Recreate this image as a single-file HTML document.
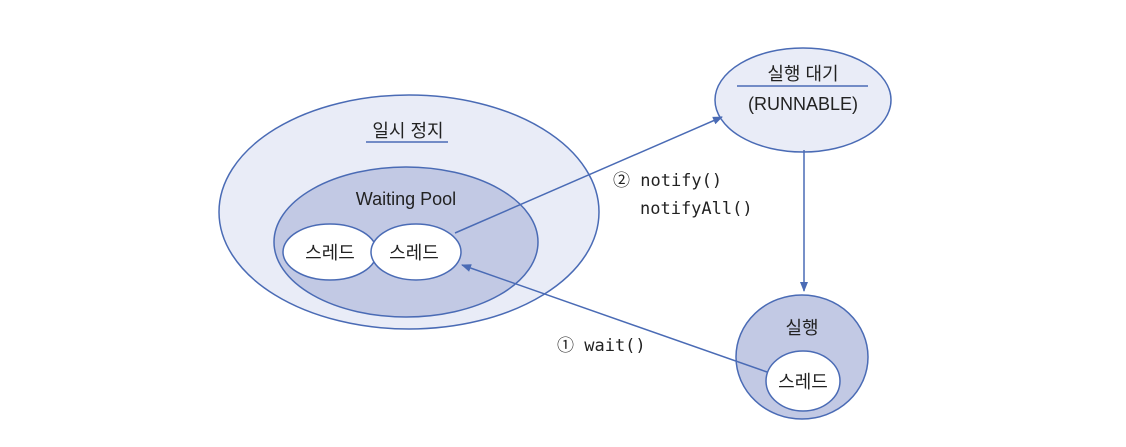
<!DOCTYPE html>
<html><head><meta charset="utf-8"><style>
html,body{margin:0;padding:0;background:#fff;}
svg text{font-family:"Liberation Sans","Noto Sans CJK KR",sans-serif;fill:#222;}
.m{font-family:"DejaVu Sans Mono","Liberation Mono","Noto Sans CJK KR",monospace !important;}
</style></head><body>
<svg width="1126" height="442" viewBox="0 0 1126 442" xmlns="http://www.w3.org/2000/svg">
<defs><marker id="a" markerWidth="10" markerHeight="10" refX="9" refY="5" orient="auto" markerUnits="userSpaceOnUse"><path d="M0,1 L10,5 L0,9 Z" fill="#4a6bb5"/></marker></defs>
<g stroke="#4a6bb5" stroke-width="1.5">
<ellipse cx="409" cy="212" rx="190" ry="117" fill="#e9ecf7"/>
<ellipse cx="406" cy="242" rx="132" ry="75" fill="#c2c9e4"/>
<ellipse cx="330" cy="252" rx="47" ry="28" fill="#fff"/>
<ellipse cx="416" cy="252" rx="45" ry="28" fill="#fff"/>
<ellipse cx="803" cy="100" rx="88" ry="52" fill="#e9ecf7"/>
<ellipse cx="802" cy="357" rx="66" ry="62" fill="#c2c9e4"/>
<ellipse cx="803" cy="381" rx="37" ry="30" fill="#fff"/>
<line x1="366" y1="142" x2="448" y2="142"/>
<line x1="737" y1="86" x2="868" y2="86"/>
<line x1="455" y1="233" x2="722" y2="117" marker-end="url(#a)"/>
<line x1="767" y1="372" x2="462" y2="265" marker-end="url(#a)"/>
<line x1="804" y1="150" x2="804" y2="291" marker-end="url(#a)"/>
</g>
<g font-size="18" text-anchor="middle">
<text x="408" y="137">일시 정지</text>
<text x="406" y="205">Waiting Pool</text>
<text x="330" y="259">스레드</text>
<text x="414" y="259">스레드</text>
<text x="803" y="80">실행 대기</text>
<text x="803" y="110">(RUNNABLE)</text>
<text x="802" y="334">실행</text>
<text x="803" y="388">스레드</text>
</g>
<g font-size="17">
<text x="613" y="186" class="m">② notify()</text>
<text x="640" y="214" class="m">notifyAll()</text>
<text x="557" y="351" class="m">① wait()</text>
</g>
</svg>
</body></html>
